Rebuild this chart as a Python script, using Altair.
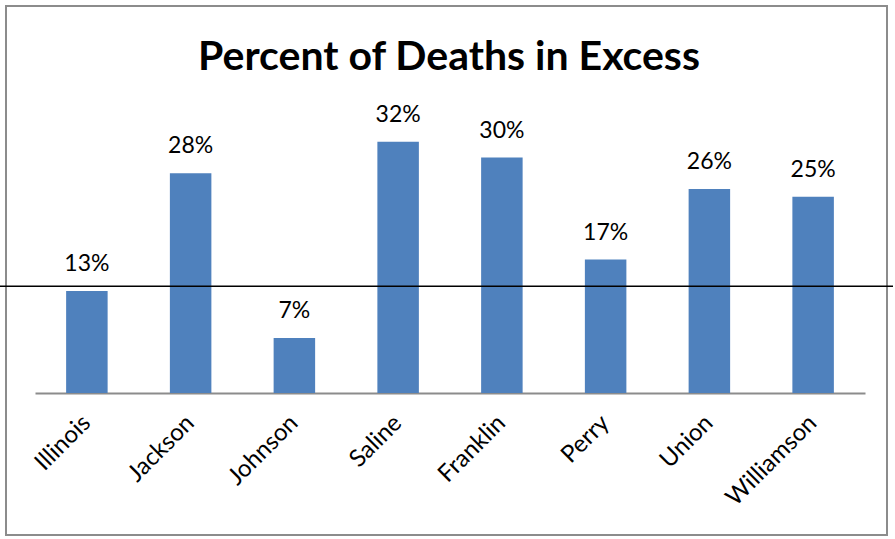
import altair as alt
import pandas as pd

counties = ["Illinois", "Jackson", "Johnson", "Saline", "Franklin", "Perry", "Union", "Williamson"]
values = [13, 28, 7, 32, 30, 17, 26, 25]
reference_level = [13.6]
title_text = ["Percent of Deaths in Excess"]

df = pd.DataFrame({"county": counties, "value": values})
ref = pd.DataFrame({"level": reference_level})
tdf = pd.DataFrame({"t": title_text})

FONT = "Lato"
W, H = 830, 314

y_scale = alt.Scale(domain=[0, 40], nice=False)
x_enc = alt.X("county:N", sort=counties,
              scale=alt.Scale(paddingInner=0.6, paddingOuter=0.3),
              axis=alt.Axis(title=None, labelAngle=-45, labelAlign="right", labelBaseline="middle",
                            labelFontSize=24, labelFont=FONT, labelColor="#000000", labelPadding=26,
                            ticks=False, domainColor="#8c8c8c", domainWidth=2, grid=False))

bars = alt.Chart(df).mark_bar(color="#4f81bd").encode(
    x=x_enc,
    y=alt.Y("value:Q", scale=y_scale, axis=None),
)

labels = alt.Chart(df).transform_calculate(
    lab="format(datum.value, '.0f') + '%'"
).mark_text(baseline="alphabetic", dy=-20, fontSize=23, font=FONT, color="#000000").encode(
    x=alt.X("county:N", sort=counties),
    y=alt.Y("value:Q", scale=y_scale),
    text="lab:N",
)

line = alt.Chart(ref).mark_rule(color="#000000", strokeWidth=1.5).encode(
    y=alt.Y("level:Q", scale=y_scale),
    x=alt.value(-35),
    x2=alt.value(858),
)

border = alt.Chart(ref).mark_rect(fill=None, stroke="#8c8c8c", strokeWidth=2).encode(
    x=alt.value(-29), x2=alt.value(852), y=alt.value(-73), y2=alt.value(456),
)

title = alt.Chart(tdf).mark_text(font=FONT, fontSize=41, fontWeight="bold", color="#000000",
                                 align="center", baseline="alphabetic").encode(
    x=alt.value(W / 2 - 1), y=alt.value(-9), text="t:N",
)

chart = alt.layer(border, bars, labels, line, title).properties(
    width=W, height=H,
    autosize=alt.AutoSizeParams(type="none"),
    padding={"left": 35, "top": 79, "right": 30, "bottom": 146},
).configure(
    background="#ffffff",
    view=alt.ViewConfig(stroke="transparent", strokeWidth=0),
)

chart.save("out.html", embed_options={"renderer": "svg", "actions": False})
